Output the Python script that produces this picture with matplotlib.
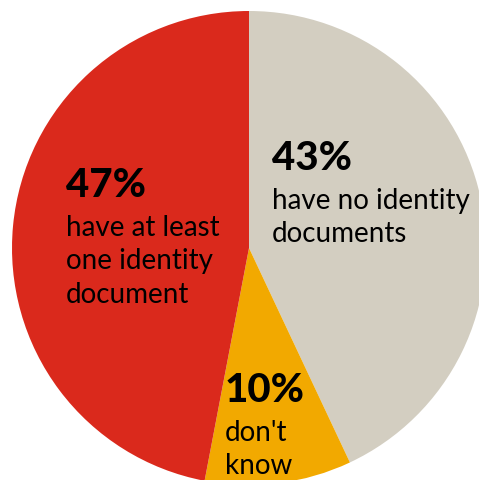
import matplotlib.pyplot as plt

# share of people by identity document status
shares = [43, 10, 47]
colors = ["#D3CEC1", "#F2A900", "#DA291C"]
pct_labels = ["43%", "10%", "47%"]
desc_labels = ["have no identity\ndocuments", "don't\nknow", "have at least\none identity\ndocument"]

W, H = 479, 481
fig = plt.figure(figsize=(W / 100, H / 100), dpi=100)
ax = fig.add_axes([0, 0, 1, 1])

ax.pie(shares, colors=colors, startangle=90, counterclock=False,
       center=(249, H - 249), radius=237, frame=True,
       wedgeprops=dict(linewidth=0))
ax.set_xlim(0, W)
ax.set_ylim(0, H)
ax.set_aspect("equal")
ax.axis("off")

fam = ["Lato", "DejaVu Sans"]
# label anchors (top-left of each block)
pos = [(272, H - 140), (225, H - 372), (66, H - 167)]
for (x, y), p, d in zip(pos, pct_labels, desc_labels):
    ax.text(x, y, p, fontsize=29, fontweight="black", family=fam,
            ha="left", va="top", color="black")
    ax.text(x, y - 48, d, fontsize=20, family=fam, ha="left", va="top",
            color="black", linespacing=1.35)

fig.savefig("out.png", dpi=100)
